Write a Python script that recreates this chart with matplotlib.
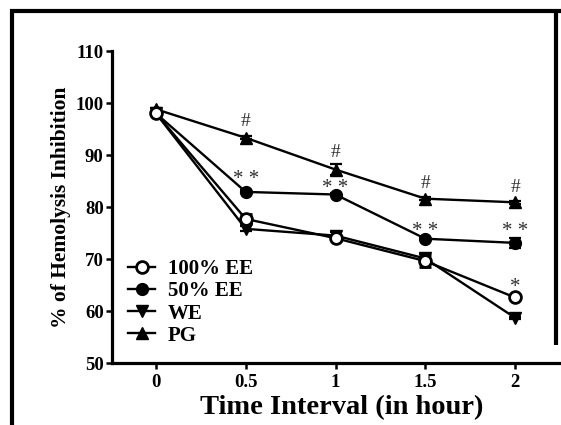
import matplotlib
matplotlib.use("Agg")
import matplotlib.pyplot as plt
from matplotlib.lines import Line2D

# ---- data ----
time = [0, 0.5, 1, 1.5, 2]
xtick_labels = ["0", "0.5", "1", "1.5", "2"]
yticks = [50, 60, 70, 80, 90, 100, 110]

ee100 = [98.0, 77.7, 74.0, 69.6, 62.6]
ee100_err = [0.3, 1.0, 0.3, 1.2, 0.3]
ee50 = [98.0, 82.9, 82.4, 73.9, 73.1]
ee50_err = [0.3, 0.3, 0.3, 0.3, 1.0]
we = [98.0, 75.8, 74.5, 70.1, 58.7]
we_err = [0.3, 0.5, 0.7, 0.8, 0.2]
pg = [98.8, 93.3, 87.2, 81.6, 80.9]
pg_err = [0.3, 0.3, 1.0, 0.3, 0.3]

series_names = ["100% EE", "50% EE", "WE", "PG"]

hash_x = [0.5, 1, 1.5, 2]
hash_y = [96.4, 90.4, 84.6, 83.7]
dstar_x = [0.5, 1, 1.5, 2]
dstar_y = [86.2, 84.4, 76.2, 76.2]
star_x = [2]
star_y = [65.4]

# ---- figure ----
W, H = 561, 425
fig = plt.figure(figsize=(W / 100, H / 100), dpi=100)
fig.patch.set_facecolor("white")

left_px, right_px, top_px, bottom_px = 112, 561, 51, 363
ax = fig.add_axes([left_px / W, 1 - bottom_px / H,
                   (right_px - left_px) / W, (bottom_px - top_px) / H])

serif = "Liberation Serif"
lw = 1.7
common = dict(color="black", linewidth=lw, markersize=8.5, capsize=4,
              elinewidth=1.6, capthick=1.6, clip_on=False)

styles = [
    dict(marker="o", markerfacecolor="white", markeredgewidth=2.0),
    dict(marker="o", markerfacecolor="black"),
    dict(marker="v", markerfacecolor="black"),
    dict(marker="^", markerfacecolor="black"),
]
values = [ee100, ee50, we, pg]
errors = [ee100_err, ee50_err, we_err, pg_err]
zs = [4, 3, 3, 3]

handles = []
for name, v, e, st, z in zip(series_names, values, errors, styles, zs):
    ax.errorbar(time, v, yerr=e, zorder=z, **st, **common)
    handles.append(Line2D([], [], color="black", linewidth=lw,
                          markersize=8.5, label=name, **st))

ann_color = "#2e2e2e"
for x, y in zip(hash_x, hash_y):
    ax.text(x, y, "#", ha="center", va="center", fontsize=14,
            family=serif, color=ann_color)
for x, y in zip(dstar_x, dstar_y):
    ax.text(x, y - 1.8, "* *", ha="center", va="baseline", fontsize=15,
            family=serif, color=ann_color)
for x, y in zip(star_x, star_y):
    ax.text(x, y - 1.8, "*", ha="center", va="baseline", fontsize=15,
            family=serif, color=ann_color)

ax.set_xlim(-0.245, 2.256)
ax.set_ylim(50, 110)
ax.set_xticks(time)
ax.set_xticklabels(xtick_labels)
ax.set_yticks(yticks)

for s in ["top", "right"]:
    ax.spines[s].set_visible(False)
for s in ["left", "bottom"]:
    ax.spines[s].set_linewidth(2.3)

ax.tick_params(axis="both", direction="out", length=4, width=1.8,
               labelsize=13.5)
ax.tick_params(axis="x", pad=4)
ax.tick_params(axis="y", pad=2)
for lab in ax.get_xticklabels() + ax.get_yticklabels():
    lab.set_fontfamily(serif)
    lab.set_fontweight("bold")

ax.set_xlabel("Time Interval (in hour)", fontsize=20.5, fontweight="bold",
              family=serif, va="center")
ax.xaxis.set_label_coords(0.512, -0.142)
ax.set_ylabel("% of Hemolysis Inhibition", fontsize=15.5, fontweight="bold",
              family=serif, labelpad=3)

ax.legend(handles=handles, loc="center left", bbox_to_anchor=(0.036, 0.194),
          frameon=False, borderaxespad=0, borderpad=0,
          handlelength=1.3, handletextpad=0.6, labelspacing=0.1,
          prop={"family": serif, "weight": "bold", "size": 15})

# ---- outer frame ----
def px_line(x0, y0, x1, y1, w):
    fig.add_artist(Line2D([x0 / W, x1 / W], [1 - y0 / H, 1 - y1 / H],
                          transform=fig.transFigure, color="black",
                          linewidth=w, solid_capstyle="butt"))

px_line(12, 9, 12, 425, 3.0)
px_line(10, 11, 561, 11, 3.0)
px_line(556, 9, 556, 345, 3.0)

fig.savefig("out.png", dpi=100, facecolor="white")
